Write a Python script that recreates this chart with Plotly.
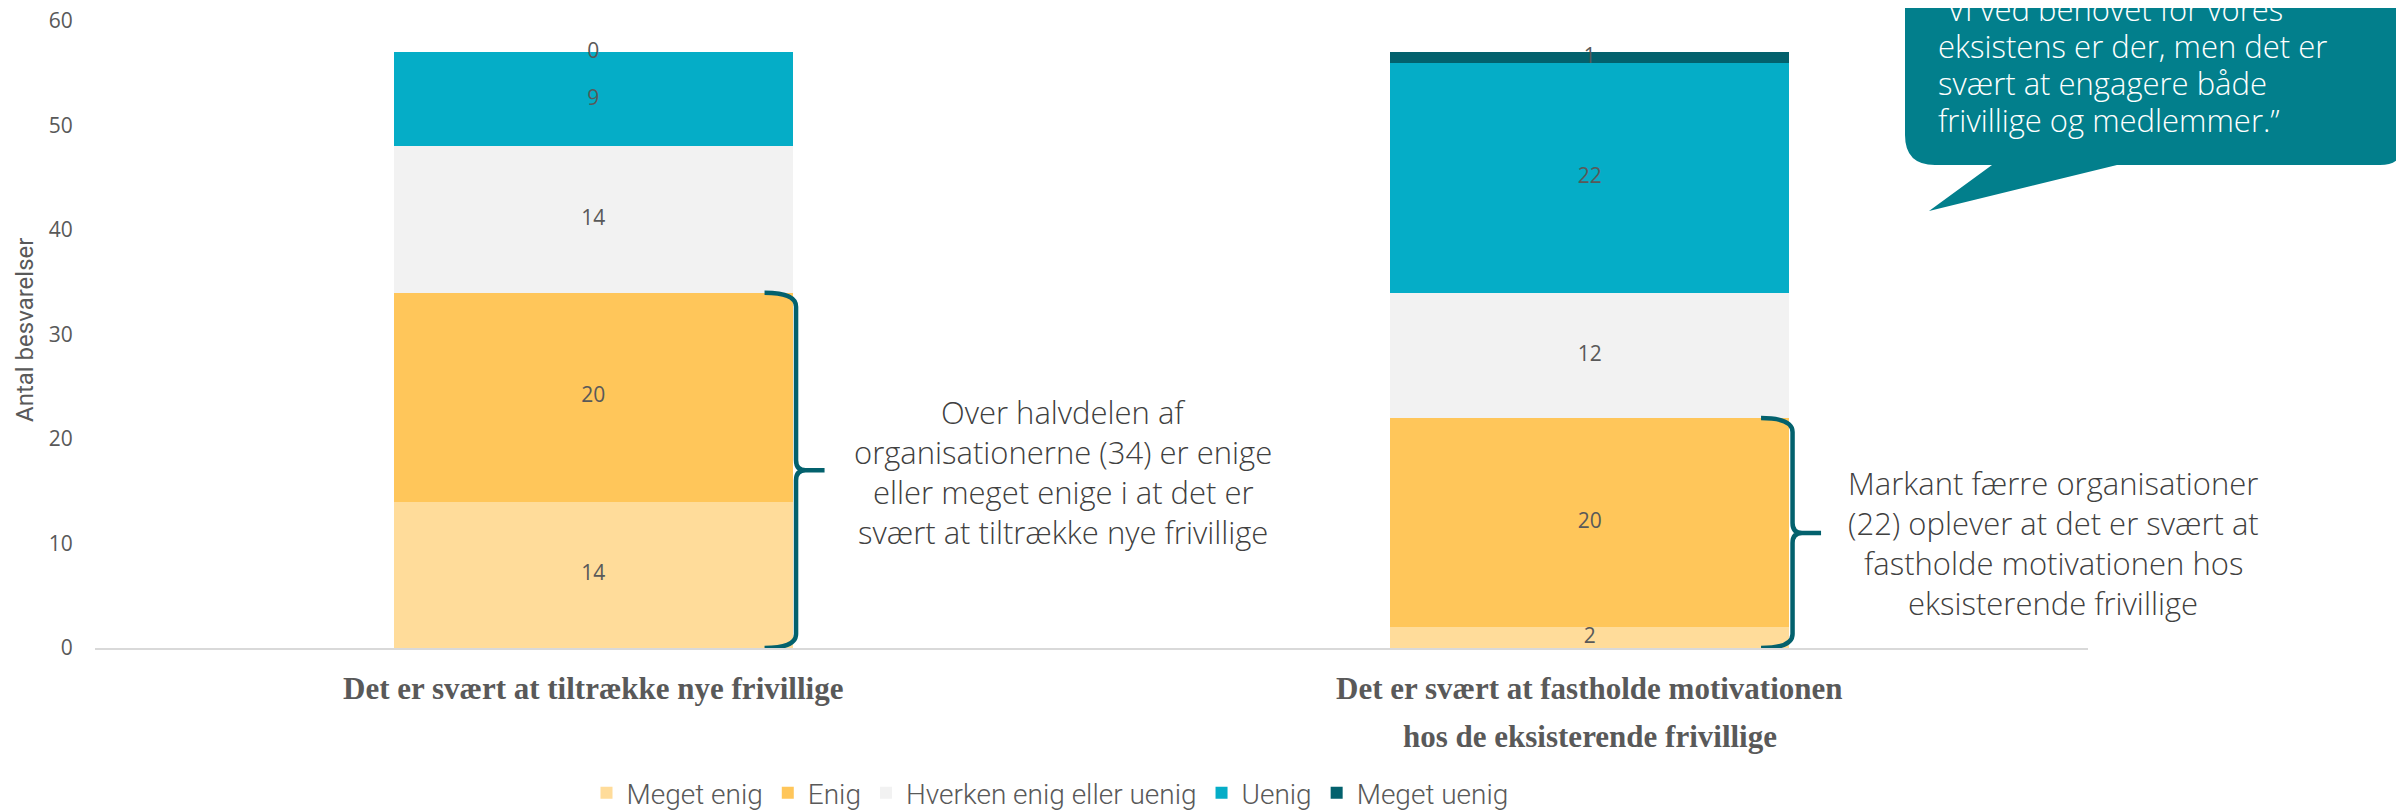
import plotly.graph_objects as go

# ---------------- data ----------------
categories = [
    "Det er svært at tiltrække nye frivillige",
    "Det er svært at fastholde motivationen hos de eksisterende frivillige",
]
category_lines = [
    ["Det er svært at tiltrække nye frivillige"],
    ["Det er svært at fastholde motivationen", "hos de eksisterende frivillige"],
]
series_names = ["Meget enig", "Enig", "Hverken enig eller uenig", "Uenig", "Meget uenig"]
meget_enig = [14, 2]
enig = [20, 20]
hverken = [14, 12]
uenig = [9, 22]
meget_uenig = [0, 1]
series_values = [meget_enig, enig, hverken, uenig, meget_uenig]
colors = ["#FFDC9A", "#FFC65A", "#F2F2F2", "#05ADC7", "#03616D"]

y_ticks = [0, 10, 20, 30, 40, 50, 60]
y_title = "Antal besvarelser"

note_left = ["Over halvdelen af", "organisationerne (34) er enige",
             "eller meget enige i at det er", "svært at tiltrække nye frivillige"]
note_right = ["Markant færre organisationer", "(22) oplever at det er svært at",
              "fastholde motivationen hos", "eksisterende frivillige"]
quote_lines = ["”Vi ved behovet for vores", "eksistens er der, men det er",
               "svært at engagere både", "frivillige og medlemmer.”"]

# ---------------- layout geometry (page pixels) ----------------
PAGE_W, PAGE_H = 2404, 811
OFF = 8                      # default body margin of the html page
W, H = PAGE_W - OFF, PAGE_H - OFF
PL, PR, PT, PB = 95, 2088, 21, 648   # plot area in page pixels


def px_x(X):
    return (X - PL) / (PR - PL)


def px_y(Y):
    return (PB - Y) / (PB - PT)


Y_MAX = 60
unit_px = (PB - PT) / Y_MAX

GREY = "#595959"
TXT = "#404040"
BRACE = "#03616D"
BUBBLE = "#027F8C"
SANS = "Open Sans, Noto Sans, sans-serif"
NARROW = "Roboto, DejaVu Sans Condensed, sans-serif"
SERIF = "Liberation Serif, DejaVu Serif, serif"

fig = go.Figure()

for name, vals, col in zip(series_names, series_values, colors):
    fig.add_trace(go.Bar(
        x=categories, y=vals, name=name, marker_color=col,
        marker_line_width=0, hoverinfo="name+y",
    ))

# value labels in the middle of each segment
lab_x, lab_y, lab_t = [], [], []
for ci, cat in enumerate(categories):
    base = 0
    for vals in series_values:
        v = vals[ci]
        lab_x.append(cat)
        lab_y.append(base + v / 2)
        lab_t.append(str(v))
        base += v
fig.add_trace(go.Scatter(
    x=lab_x, y=lab_y, text=lab_t, mode="text", showlegend=False,
    textfont=dict(family=SANS, size=21, color=GREY), hoverinfo="skip",
    cliponaxis=False,
))

shapes = []
annotations = []

# braces next to the "enig" parts of each bar
bar_half = 0.2
n_cat = len(categories)
for ci in range(n_cat):
    right_edge_px = PL + (ci + bar_half + 0.5) / n_cat * (PR - PL)
    ytop = meget_enig[ci] + enig[ci]
    ybot = 0
    ymid = ytop / 2
    xs = px_x(right_edge_px - 28)
    xv = px_x(right_edge_px + 3.5)
    xv2 = px_x(right_edge_px + 13)
    xt = px_x(right_edge_px + 32)
    rt = 14 / unit_px
    rm = 10 / unit_px
    path = (f"M {xs},{ytop} Q {xv},{ytop} {xv},{ytop - rt} "
            f"L {xv},{ymid + rm} Q {xv},{ymid} {xv2},{ymid} L {xt},{ymid} "
            f"M {xt},{ymid} L {xv2},{ymid} Q {xv},{ymid} {xv},{ymid - rm} "
            f"L {xv},{ybot + rt} Q {xv},{ybot} {xs},{ybot}")
    shapes.append(dict(type="path", xref="paper", yref="y", path=path,
                       line=dict(color=BRACE, width=4.5), fillcolor="rgba(0,0,0,0)",
                       layer="above"))

# notes beside braces
for lines, cx, ys in [(note_left, 1063, [412, 452, 492, 532]),
                      (note_right, 2053, [483, 523, 563, 603])]:
    for line, yy in zip(lines, ys):
        annotations.append(dict(
            text=line, xref="paper", yref="paper", x=px_x(cx), y=px_y(yy),
            xanchor="center", yanchor="middle", showarrow=False,
            font=dict(family=SANS, size=31, color=TXT, weight=300),
        ))

# speech bubble
bx0, bx1, bby, btop = 1905, 2404, 165, -60
r1, r2 = 30, 24
pts = (f"M {px_x(bx0)},{px_y(btop)} L {px_x(bx0)},{px_y(bby - r1)} "
       f"Q {px_x(bx0)},{px_y(bby)} {px_x(bx0 + r1)},{px_y(bby)} "
       f"L {px_x(1992)},{px_y(bby)} L {px_x(1929)},{px_y(211)} L {px_x(2117)},{px_y(bby)} "
       f"L {px_x(bx1 - r2)},{px_y(bby)} Q {px_x(bx1)},{px_y(bby)} {px_x(bx1)},{px_y(bby - r2)} "
       f"L {px_x(bx1)},{px_y(btop)} Z")
shapes.append(dict(type="path", xref="paper", yref="paper", path=pts,
                   fillcolor=BUBBLE, line=dict(width=0), layer="above"))
for line, yy in zip(quote_lines, [9, 46, 83, 120]):
    annotations.append(dict(
        text=line, xref="paper", yref="paper", x=px_x(1936), y=px_y(yy),
        xanchor="left", yanchor="middle", showarrow=False,
        font=dict(family=SANS, size=31, color="white", weight=300),
    ))

# category labels (serif bold)
for cat, lines in zip(categories, category_lines):
    for li, line in enumerate(lines):
        annotations.append(dict(
            text=f"<b>{line}</b>", xref="x", yref="paper", x=cat, y=px_y(688 + li * 48),
            xanchor="center", yanchor="middle", showarrow=False,
            font=dict(family=SERIF, size=31, color=GREY),
        ))

# y-axis title
annotations.append(dict(
    text=y_title, xref="paper", yref="paper", x=px_x(25), y=px_y(330),
    xanchor="center", yanchor="middle", textangle=-90, showarrow=False,
    font=dict(family=NARROW, size=24, color=GREY),
))

fig.update_layout(
    width=W, height=H,
    margin=dict(l=PL - OFF, r=PAGE_W - PR, t=PT - OFF, b=PAGE_H - PB, pad=0,
                autoexpand=False),
    barmode="stack", bargap=0.6,
    plot_bgcolor="white", paper_bgcolor="white",
    shapes=shapes, annotations=annotations,
    legend=dict(orientation="h", xref="container", yref="container",
                x=(1050 - OFF) / W, xanchor="center",
                y=1 - (793 - OFF) / H, yanchor="middle", traceorder="normal",
                font=dict(family=NARROW, size=28, color=GREY, weight=300),
                itemwidth=30),
    xaxis=dict(showticklabels=False, ticks="", showline=True, linecolor="#D9D9D9",
               linewidth=2, showgrid=False, zeroline=False, automargin=False),
    yaxis=dict(range=[0, Y_MAX], tickvals=y_ticks, showgrid=False, zeroline=False,
               showline=False, ticks="outside", ticklen=17, tickcolor="rgba(0,0,0,0)",
               ticklabeloverflow="allow",
               tickfont=dict(family=SANS, size=21, color=GREY), automargin=False),
)

fig.write_html("out.html")
